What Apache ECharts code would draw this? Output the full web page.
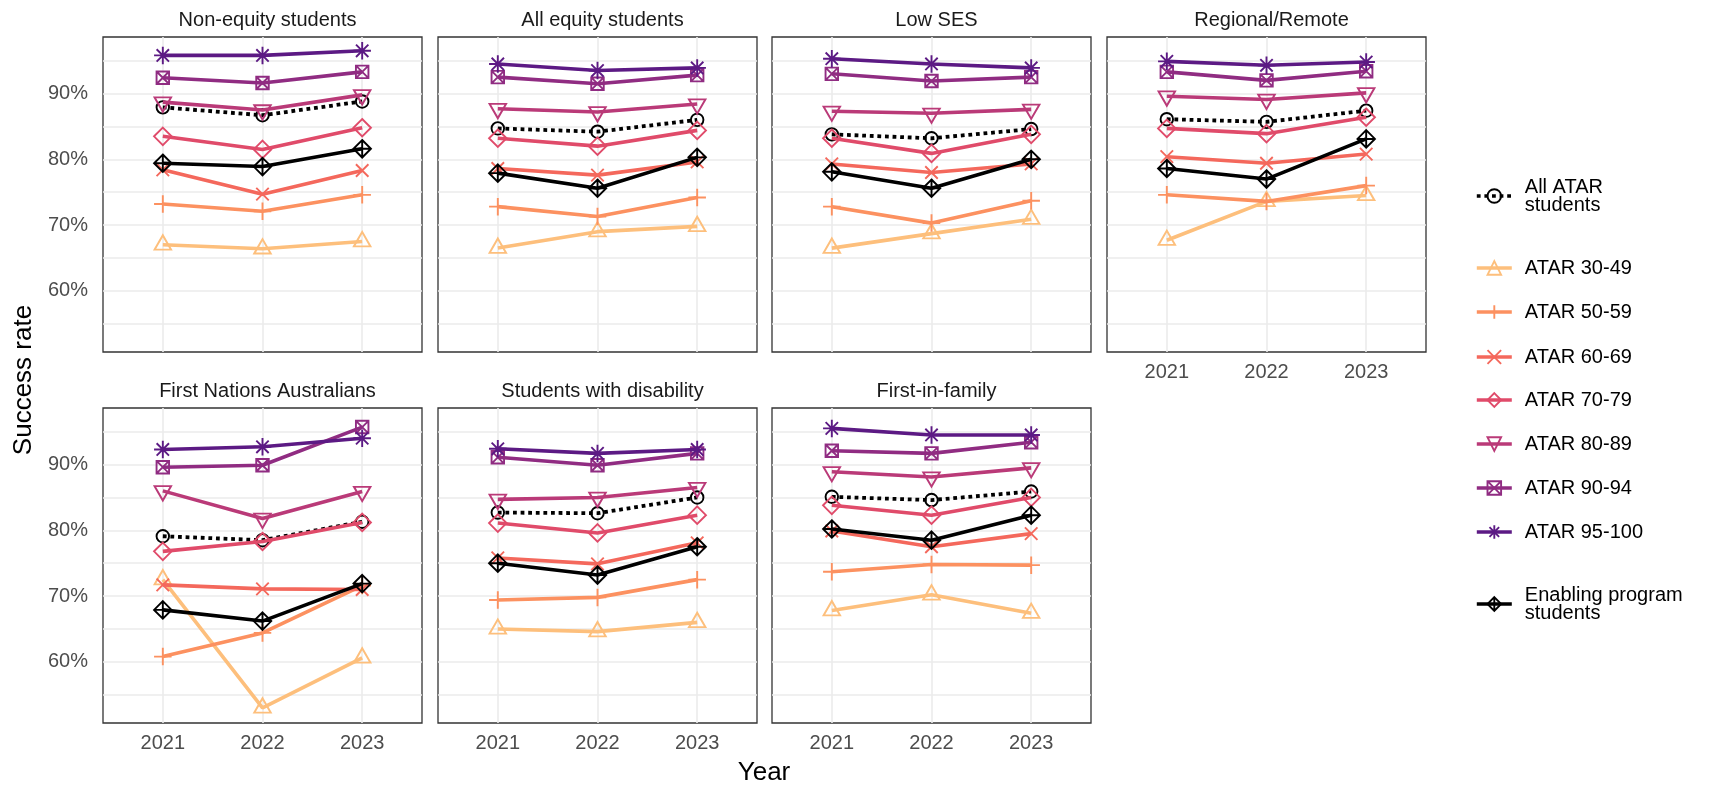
<!DOCTYPE html>
<html><head><meta charset="utf-8">
<script src="https://cdn.jsdelivr.net/npm/echarts@6/dist/echarts.min.js"></script>
<style>html,body{margin:0;padding:0;background:#fff}#c{width:1711px;height:787px}</style>
</head><body><div id="c"></div>
<script>
// ---------- DATA ----------
const years = [2021, 2022, 2023];
const groups = ['All ATAR students','ATAR 30-49','ATAR 50-59','ATAR 60-69','ATAR 70-79','ATAR 80-89','ATAR 90-94','ATAR 95-100','Enabling program students'];
const panelTitles = ['Non-equity students','All equity students','Low SES','Regional/Remote','First Nations Australians','Students with disability','First-in-family'];
const yTicks = [60, 70, 80, 90];
// rows follow the order of `groups`; columns follow `years`
const nonEquity = [
  [87.9, 86.7, 88.8],[67.0, 66.4, 67.5],[73.2, 72.1, 74.6],[78.4, 74.7, 78.3],[83.5, 81.5, 84.8],
  [88.7, 87.5, 89.8],[92.4, 91.6, 93.3],[95.8, 95.8, 96.5],[79.4, 78.9, 81.6]];
const allEquity = [
  [84.7, 84.2, 86.0],[66.5, 69.0, 69.8],[72.8, 71.3, 74.2],[78.6, 77.6, 79.6],[83.2, 82.0, 84.4],
  [87.7, 87.2, 88.4],[92.5, 91.5, 92.8],[94.5, 93.5, 93.9],[77.9, 75.6, 80.3]];
const lowSES = [
  [83.8, 83.2, 84.6],[66.5, 68.7, 70.9],[72.8, 70.3, 73.7],[79.3, 78.0, 79.3],[83.2, 80.9, 83.8],
  [87.3, 87.0, 87.6],[93.0, 91.9, 92.5],[95.3, 94.5, 93.9],[78.1, 75.6, 80.0]];
const regional = [
  [86.1, 85.7, 87.4],[67.7, 73.6, 74.5],[74.6, 73.6, 76.0],[80.4, 79.4, 80.8],[84.7, 83.9, 86.4],
  [89.6, 89.1, 90.1],[93.3, 92.0, 93.4],[94.9, 94.3, 94.8],[78.6, 77.0, 83.1]];
const firstNations = [
  [79.1, 78.5, 81.3],[72.5, 53.0, 60.6],[60.8, 64.4, 71.6],[71.7, 71.1, 71.0],[76.8, 78.3, 81.2],
  [86.0, 81.8, 85.9],[89.6, 89.9, 95.7],[92.3, 92.7, 94.0],[67.9, 66.2, 71.9]];
const disability = [
  [82.7, 82.6, 85.0],[65.0, 64.6, 66.0],[69.4, 69.8, 72.5],[75.8, 74.9, 78.1],[81.1, 79.6, 82.3],
  [84.7, 85.0, 86.5],[91.1, 89.9, 91.7],[92.4, 91.7, 92.3],[75.0, 73.2, 77.5]];
const firstInFamily = [
  [85.1, 84.6, 85.9],[67.8, 70.2, 67.4],[73.7, 74.8, 74.7],[79.9, 77.5, 79.5],[83.8, 82.3, 85.0],
  [88.9, 88.1, 89.5],[92.1, 91.7, 93.4],[95.5, 94.5, 94.5],[80.2, 78.5, 82.3]];
const panels = [nonEquity, allEquity, lowSES, regional, firstNations, disability, firstInFamily];

// ---------- STYLE ----------
const FONT = 'Liberation Sans, Arial, sans-serif';
const colors = ['#000000','#FDBF7C','#FC9160','#F4685C','#E04B6A','#BA3A78','#902C82','#5C1A84','#000000'];
const symbols = [
  'circle',
  'path://M0 15.59 L9 0 L18 15.59 Z',
  'path://M10 0 L10 20 M0 10 L20 10',
  'path://M0 0 L20 20 M20 0 L0 20',
  'path://M10 0 L20 10 L10 20 L0 10 Z',
  'path://M0 0 L18 0 L9 15.59 Z',
  'path://M0 0 L20 0 L20 20 L0 20 Z M0 0 L20 20 M20 0 L0 20',
  'path://M10 0 L10 20 M0 10 L20 10 M2.93 2.93 L17.07 17.07 M17.07 2.93 L2.93 17.07',
  'path://M10 0 L20 10 L10 20 L0 10 Z M10 0 L10 20 M0 10 L20 10'
];
const symSizes = [12.5, [16.5, 14.3], 17.5, 12.5, 17.5, [16.5, 14.3], 12.5, 17.5, 17.5];
const symOffsets = [[0,0],[0,-2.4],[0,0],[0,0],[0,0],[0,2.4],[0,0],[0,0],[0,0]];

const colLeft = [103, 438, 772, 1107];
const rowTop = [37, 408];
const PW = 319, PH = 315;
const panelPos = [[0,0],[0,1],[0,2],[0,3],[1,0],[1,1],[1,2]];
const showXLab = [false, false, false, true, true, true, true];
const showYLab = [true, false, false, false, true, false, false];

const grid = [], xAxis = [], yAxis = [], title = [], series = [];
panelPos.forEach(([r, c], i) => {
  grid.push({left: colLeft[c], top: rowTop[r], width: PW, height: PH, show: true,
    borderColor: '#333333', borderWidth: 1.3, backgroundColor: 'rgba(0,0,0,0)', containLabel: false});
  xAxis.push({type: 'value', gridIndex: i, min: 2020.4, max: 2023.6, splitNumber: 3, minInterval: 1, maxInterval: 1,
    axisLine: {show: false}, axisTick: {show: false},
    axisLabel: {show: showXLab[i], margin: 10, fontSize: 20, color: '#4D4D4D', fontFamily: FONT,
      formatter: v => years.includes(Math.round(v * 1000) / 1000) ? String(Math.round(v)) : ''},
    splitLine: {show: true, showMinLine: false, showMaxLine: false, lineStyle: {color: '#EBEBEB', width: 1.6}}});
  yAxis.push({type: 'value', gridIndex: i, min: 50.7, max: 98.6, splitNumber: 10, minInterval: 5, maxInterval: 5,
    axisLine: {show: false}, axisTick: {show: false},
    axisLabel: {show: showYLab[i], margin: 15, fontSize: 20, color: '#4D4D4D', fontFamily: FONT,
      formatter: v => yTicks.includes(Math.round(v * 1000) / 1000) ? Math.round(v) + '%' : ''},
    splitLine: {show: true, showMinLine: false, showMaxLine: false, lineStyle: {color: '#EBEBEB', width: 1.6}}});
  title.push({text: panelTitles[i], left: colLeft[c] + PW / 2, top: rowTop[r] - 32, textAlign: 'center',
    textStyle: {fontSize: 20, fontWeight: 'normal', color: '#1A1A1A', fontFamily: FONT}});
  groups.forEach((g, k) => {
    const isAll = k === 0;
    series.push({
      type: 'line', name: g, xAxisIndex: i, yAxisIndex: i,
      data: years.map((y, j) => [y, panels[i][k][j]]),
      symbol: symbols[k], symbolSize: symSizes[k], symbolOffset: symOffsets[k], showSymbol: true,
      itemStyle: {color: 'rgba(0,0,0,0)', borderColor: colors[k], borderWidth: 1.9},
      lineStyle: {color: colors[k], width: isAll ? 3.8 : 3.6, type: isAll ? [3.8, 3.8] : 'solid'},
      emphasis: {disabled: true}, silent: true, animation: false, z: 2 + k * 0.01
    });
  });
});

const legendCenters = [195, 267, 311, 356, 399, 443, 487, 531, 603];
const legend = groups.map((g, k) => {
  const twoLine = (k === 0 || k === 8);
  return {
    data: [g], left: 1475, top: legendCenters[k] - (twoLine ? 18 : 9), orient: 'vertical', padding: 0,
    itemWidth: 35, itemHeight: 17, selectedMode: false,
    lineStyle: {width: 3.6},
    itemStyle: {borderWidth: 1.9},
    formatter: n => n === 'All ATAR students' ? 'All ATAR\nstudents' : (n === 'Enabling program students' ? 'Enabling program\nstudents' : n),
    textStyle: {fontSize: 20, color: '#000', fontFamily: FONT, lineHeight: 18, padding: [0, 0, 0, 8]}
  };
});

const chart = echarts.init(document.getElementById('c'), null, {renderer: 'canvas'});
chart.setOption({
  backgroundColor: '#ffffff', animation: false,
  grid, xAxis, yAxis, title, series, legend,
  graphic: [
    {type: 'text', x: 24, y: 380, rotation: Math.PI / 2,
      style: {text: 'Success rate', fontSize: 26, fontFamily: FONT, fill: '#000', align: 'center', verticalAlign: 'middle'}},
    {type: 'text', x: 764, y: 773,
      style: {text: 'Year', fontSize: 26, fontFamily: FONT, fill: '#000', align: 'center', verticalAlign: 'middle'}}
  ]
});
</script></body></html>
